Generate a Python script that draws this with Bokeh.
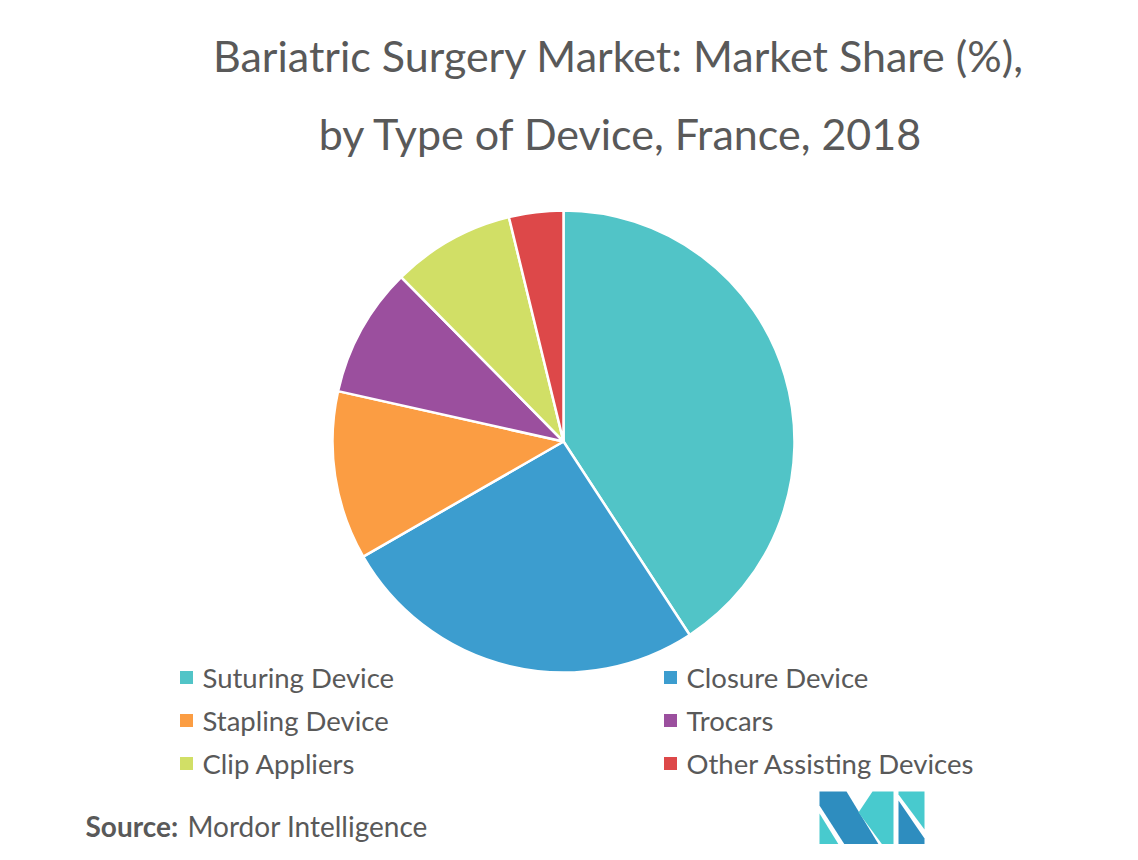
import numpy as np
from bokeh.plotting import figure
from bokeh.models import Range1d, ColumnDataSource
from bokeh.core.properties import value
from bokeh.embed import file_html
from bokeh.resources import INLINE

# ---- data ----
categories = ["Suturing Device", "Closure Device", "Stapling Device",
              "Trocars", "Clip Appliers", "Other Assisting Devices"]
shares = [40.8, 25.9, 11.8, 9.1, 8.6, 3.8]
colors = ["#51C4C7", "#3C9DCF", "#FB9D43", "#9B4F9E", "#D1DF66", "#DD4849"]
title_lines = ["Bariatric Surgery Market: Market Share (%),",
               "by Type of Device, France, 2018"]
source_label = "Source:"
source_name = "Mordor Intelligence"

W, H = 1122, 844
FONT = "Lato"
TXT = "#595959"

def px(x):
    return x

def py(y):
    return H - y

p = figure(width=W, height=H, output_backend="svg", toolbar_location=None,
           x_range=Range1d(0, W), y_range=Range1d(0, H), min_border=0)
p.axis.visible = False
p.grid.visible = False
p.outline_line_color = None
p.background_fill_color = "white"

# ---- pie ----
vals = np.array(shares, dtype=float)
frac = vals / vals.sum()
cum = np.concatenate([[0], np.cumsum(frac)])
start = np.pi / 2 - cum[:-1] * 2 * np.pi
end = np.pi / 2 - cum[1:] * 2 * np.pi
src = ColumnDataSource(dict(start=start, end=end, color=colors, cat=categories))
p.wedge(x=px(563), y=py(441), radius=231, start_angle="start", end_angle="end",
        direction="clock", fill_color="color", line_color="white", line_width=2.5,
        source=src)

# ---- title ----
p.text(x=[px(618), px(621)], y=[py(55), py(133)], text=title_lines,
       text_font=value(FONT), text_font_size="43px", text_color=TXT,
       text_align="center", text_baseline="middle")

# ---- legend ----
lx = [px(186), px(670)]
ly = [py(677), py(720), py(763)]
sq_x, sq_y, t_x, t_y = [], [], [], []
for i, c in enumerate(categories):
    col = i % 2
    row = i // 2
    sq_x.append(lx[col]); sq_y.append(ly[row])
    t_x.append(lx[col] + 16); t_y.append(ly[row])
p.rect(x=sq_x, y=sq_y, width=13, height=13, fill_color=colors, line_color=None)
p.text(x=t_x, y=t_y, text=categories, text_font=value(FONT),
       text_font_size="27.5px", text_color=TXT, text_baseline="middle",
       text_align="left")

# ---- source ----
p.text(x=[px(85)], y=[py(825)], text=[source_label], text_font=value(FONT),
       text_font_size="28px", text_font_style="bold", text_color=TXT,
       text_baseline="middle")
p.text(x=[px(187)], y=[py(825)], text=[source_name], text_font=value(FONT),
       text_font_size="28px", text_color=TXT, text_baseline="middle")

# ---- logo ----
dark = "#2E8DBF"
light = "#48CACE"
logo_shapes = [
    ([819, 846, 880, 846, 819], [791, 791, 847, 847, 805], dark),
    ([819, 819, 840], [813, 847, 847], light),
    ([872, 893, 893, 884, 858], [791, 791, 847, 847, 812], light),
    ([898, 924, 924, 898], [791, 791, 829, 794], light),
    ([898, 924, 924, 898], [800, 838, 847, 847], dark),
]
for xs, ys, c in logo_shapes:
    p.patch([px(v) for v in xs], [py(v) for v in ys], fill_color=c, line_color=None)

open("out.html", "w").write(file_html(p, INLINE))
